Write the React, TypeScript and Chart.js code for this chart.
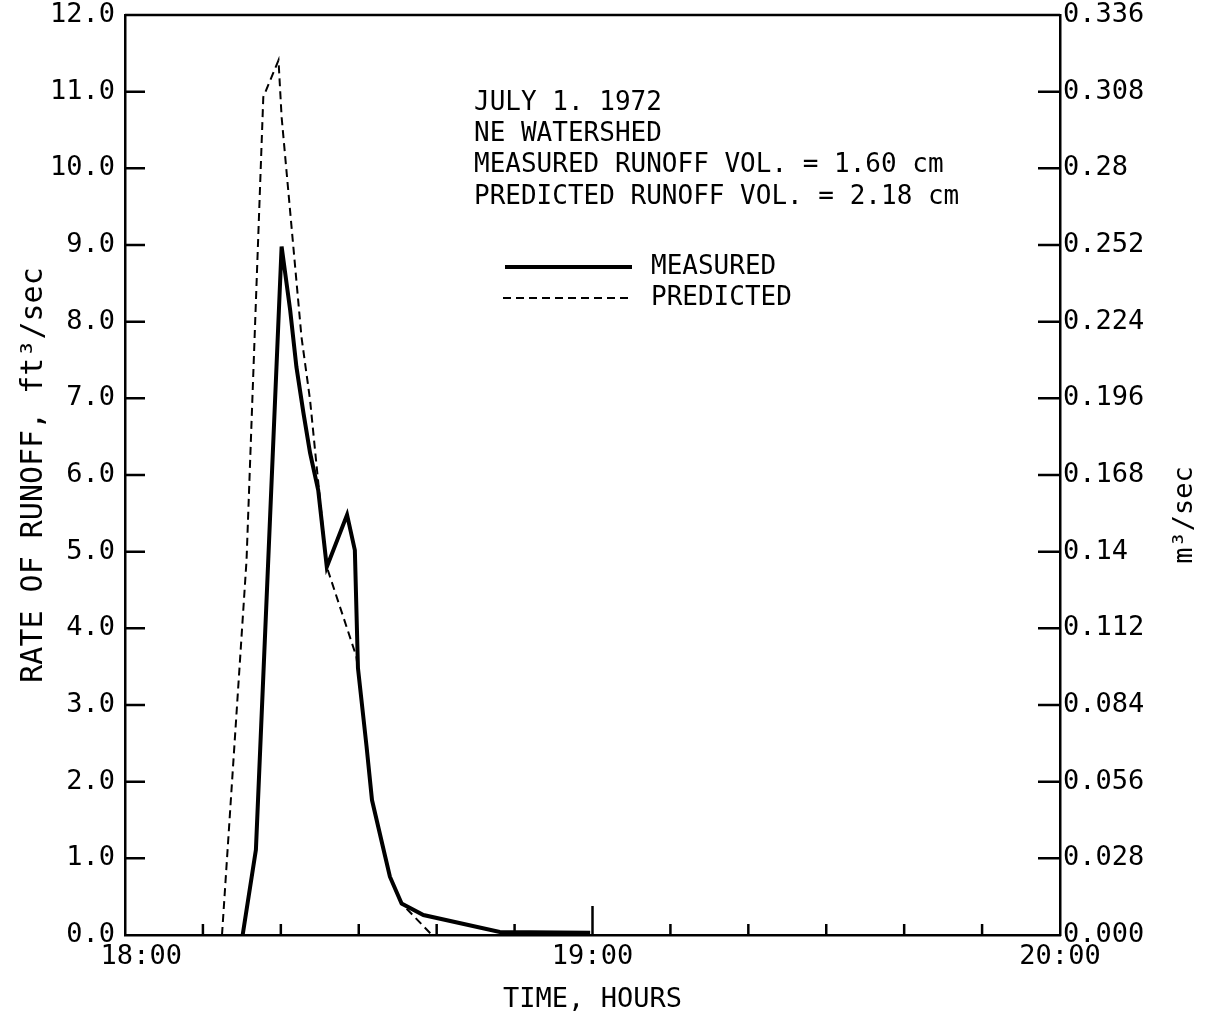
import React, { useEffect, useRef } from 'react';
import { Chart, registerables } from 'chart.js';

Chart.register(...registerables);

// minutes after 18:00
const measuredMinutes = [15.1, 16.8, 20.1, 21.2, 22.0, 22.9, 23.75, 24.8, 25.9, 28.5, 29.5, 29.9, 31.0, 31.7, 33.4, 34.0, 35.5, 38.3, 48.1, 59.7];
const measuredRate = [0, 1.11, 8.98, 8.15, 7.41, 6.81, 6.29, 5.8, 4.8, 5.48, 5.02, 3.48, 2.46, 1.76, 1.02, 0.76, 0.41, 0.26, 0.04, 0.03];

const predictedMinutes = [12.45, 15.6, 17.75, 19.7, 20.1, 22.65, 23.75, 24.6, 25.9, 29.7, 31.0, 31.7, 33.4, 34.0, 35.5, 39.4];
const predictedRate = [0, 4.89, 10.93, 11.41, 10.67, 7.8, 6.98, 6.11, 4.8, 3.63, 2.46, 1.76, 1.02, 0.76, 0.41, 0];

const xTickValues = [0, 60, 120];
const xTickLabels = ['  18:00', '19:00', '20:00'];
const xMinorTicks = [10, 20, 30, 40, 50, 60, 70, 80, 90, 100, 110];
const yMajorTicks = [1, 2, 3, 4, 5, 6, 7, 8, 9, 10, 11];
const leftTickLabels = ['0.0', '1.0', '2.0', '3.0', '4.0', '5.0', '6.0', '7.0', '8.0', '9.0', '10.0', '11.0', '12.0'];
const rightTickLabels = ['0.000', '0.028', '0.056', '0.084', '0.112', '0.14', '0.168', '0.196', '0.224', '0.252', '0.28', '0.308', '0.336'];

const annotationLines = [
  'JULY 1. 1972',
  'NE WATERSHED',
  'MEASURED RUNOFF VOL. = 1.60 cm',
  'PREDICTED RUNOFF VOL. = 2.18 cm',
];
const legendLabels = ['MEASURED', 'PREDICTED'];

const FONT = '"DejaVu Sans Mono", "Liberation Mono", monospace';

const decorPlugin = {
  id: 'decor',
  afterDraw(chart: any) {
    const { ctx, chartArea } = chart;
    const { left, right, top, bottom } = chartArea;
    const xs = chart.scales.x;
    const ys = chart.scales.y;
    ctx.save();
    ctx.strokeStyle = '#000';
    ctx.lineWidth = 2.5;
    ctx.lineCap = 'butt';
    // top frame line
    ctx.beginPath();
    ctx.moveTo(left, top);
    ctx.lineTo(right, top);
    ctx.stroke();
    // inward y ticks
    for (const v of yMajorTicks) {
      const y = ys.getPixelForValue(v);
      ctx.beginPath();
      ctx.moveTo(left, y);
      ctx.lineTo(left + 20, y);
      ctx.moveTo(right - 22, y);
      ctx.lineTo(right, y);
      ctx.stroke();
    }
    // inward x ticks
    for (const m of xMinorTicks) {
      const x = xs.getPixelForValue(m);
      const len = m === 60 ? 29 : 11;
      ctx.beginPath();
      ctx.moveTo(x, bottom);
      ctx.lineTo(x, bottom - len);
      ctx.stroke();
    }
    // annotation text
    ctx.fillStyle = '#000';
    ctx.font = `26px ${FONT}`;
    ctx.textAlign = 'left';
    ctx.textBaseline = 'middle';
    const ax = left + 349;
    const ay = ys.getPixelForValue(12);
    annotationLines.forEach((t, i) => {
      ctx.fillText(t, ax, ay + 88 + i * 31.3);
    });
    // legend
    const ly1 = ay + 252;
    const ly2 = ay + 283;
    ctx.lineWidth = 4;
    ctx.beginPath();
    ctx.moveTo(left + 380, ly1);
    ctx.lineTo(left + 507, ly1);
    ctx.stroke();
    ctx.lineWidth = 2;
    ctx.setLineDash([8, 5]);
    ctx.beginPath();
    ctx.moveTo(left + 378, ly2);
    ctx.lineTo(left + 507, ly2);
    ctx.stroke();
    ctx.setLineDash([]);
    ctx.fillText(legendLabels[0], left + 526, ly1);
    ctx.fillText(legendLabels[1], left + 526, ly2);
    // right axis title (reads bottom to top)
    ctx.save();
    ctx.translate(1185, (top + bottom) / 2 + 40);
    ctx.rotate(-Math.PI / 2);
    ctx.textAlign = 'center';
    ctx.font = `27px ${FONT}`;
    ctx.fillText('m³/sec', 0, 0);
    ctx.restore();
    ctx.restore();
  },
};

export default function App() {
  const ref = useRef<HTMLCanvasElement>(null);
  useEffect(() => {
    document.body.style.margin = '0';
    const canvas = ref.current!;
    const tickFont = { family: FONT, size: 27 };
    const chart = new Chart(canvas, {
      type: 'line',
      data: {
        datasets: [
          {
            label: 'MEASURED',
            data: measuredMinutes.map((m, i) => ({ x: m, y: measuredRate[i] })),
            borderColor: '#000',
            borderWidth: 4,
            pointRadius: 0,
            tension: 0,
            fill: false,
            yAxisID: 'y',
          },
          {
            label: 'PREDICTED',
            data: predictedMinutes.map((m, i) => ({ x: m, y: predictedRate[i] })),
            borderColor: '#000',
            borderWidth: 2,
            borderDash: [8, 5],
            pointRadius: 0,
            tension: 0,
            fill: false,
            yAxisID: 'y',
          },
        ],
      },
      options: {
        responsive: false,
        animation: false,
        devicePixelRatio: 1,
        layout: { padding: { top: 15, left: 0, right: 0, bottom: 0 } },
        plugins: { legend: { display: false }, tooltip: { enabled: false } },
        scales: {
          x: {
            type: 'linear',
            min: 0,
            max: 120,
            afterBuildTicks: (s: any) => {
              s.ticks = xTickValues.map((v) => ({ value: v }));
            },
            ticks: {
              callback: (v: any) => xTickLabels[xTickValues.indexOf(Number(v))] ?? '',
              font: tickFont,
              color: '#000',
              padding: 6,
              maxRotation: 0,
              autoSkip: false,
            },
            grid: { display: false, drawTicks: false },
            border: { display: true, color: '#000', width: 2.5 },
            title: { display: true, text: 'TIME, HOURS', font: { family: FONT, size: 27 }, color: '#000', padding: { top: 0, bottom: 4 } },
            afterFit: (s: any) => {
              s.height = 85;
              s.paddingLeft = 0;
              s.paddingRight = 0;
            },
          },
          y: {
            type: 'linear',
            position: 'left',
            min: 0,
            max: 12,
            ticks: {
              stepSize: 1,
              callback: (v: any) => leftTickLabels[Math.round(Number(v))],
              font: tickFont,
              color: '#000',
              padding: 10,
            },
            grid: { display: false, drawTicks: false },
            border: { display: true, color: '#000', width: 2.5 },
            title: { display: true, text: 'RATE OF RUNOFF, ft³/sec', font: { family: FONT, size: 30 }, color: '#000', padding: { top: 16, bottom: 0 } },
            afterFit: (s: any) => {
              s.width = 125;
              s.paddingTop = 0;
              s.paddingBottom = 0;
            },
          },
          y2: {
            type: 'linear',
            position: 'right',
            min: 0,
            max: 12,
            ticks: {
              stepSize: 1,
              callback: (v: any) => rightTickLabels[Math.round(Number(v))],
              font: tickFont,
              color: '#000',
              padding: 3,
            },
            grid: { display: false, drawTicks: false },
            border: { display: true, color: '#000', width: 2.5 },
            afterFit: (s: any) => {
              s.width = 148;
              s.paddingTop = 0;
              s.paddingBottom = 0;
            },
          },
        },
      },
      plugins: [decorPlugin],
    } as any);
    return () => chart.destroy();
  }, []);
  return (
    <div style={{ width: 1208, height: 1020, background: '#fff' }}>
      <canvas ref={ref} width={1208} height={1020} />
    </div>
  );
}
